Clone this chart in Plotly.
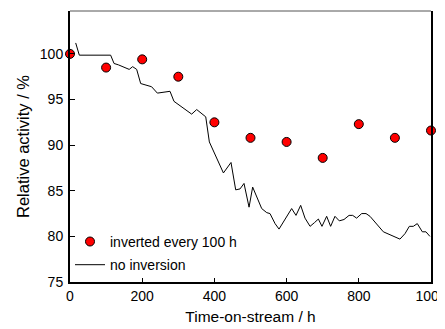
import plotly.graph_objects as go

# Inverted every 100 h (red markers)
inv_time = [0, 100, 200, 300, 400, 500, 600, 700, 800, 900, 1000]
inv_activity = [100.0, 98.5, 99.4, 97.5, 92.5, 90.8, 90.35, 88.6, 92.3, 90.8, 91.6]

# No inversion (black line)
noinv_time = [15.8, 25.8, 112.6, 122, 134, 152, 164, 173.6, 184.7, 195.8, 210, 226,
              242, 258, 277, 288, 337, 351, 362, 376, 386, 425, 446, 459, 471, 482,
              496, 506, 531, 545, 554, 568, 579, 614, 626, 639, 651, 665, 677, 688,
              698, 711, 722, 734, 746, 759, 773, 783, 794, 808, 820, 831, 868, 886,
              900, 914, 928, 940, 951, 962, 976, 986, 997]
noinv_activity = [101.2, 99.86, 99.86, 98.95, 98.8, 98.5, 98.3, 98.6, 98.3, 96.75, 96.6, 96.4,
                  95.7, 95.8, 95.9, 94.8, 93.4, 93.9, 93.5, 93.1, 90.35, 86.95, 88.1, 85.1, 85.2, 85.8,
                  83.2, 85.4, 83.05, 82.6, 82.5, 81.4, 80.8, 83.05, 82.3, 83.4, 82.0, 81.1, 81.5, 81.9,
                  81.1, 82.2, 81.1, 82.2, 81.7, 81.85, 82.3, 82.3, 82.0, 82.5, 82.5, 82.2, 80.5, 80.2,
                  80.0, 79.7, 80.3, 81.1, 81.1, 81.4, 80.5, 80.5, 80.0]

x_ticks = [0, 200, 400, 600, 800, 1000]
y_ticks = [75, 80, 85, 90, 95, 100]

font_family = "Liberation Sans, Arial, sans-serif"

fig = go.Figure()
fig.add_trace(go.Scatter(
    x=inv_time, y=inv_activity, mode="markers", name="inverted every 100 h",
    legendgroup="a",
    marker=dict(color="#ff0000", size=9, line=dict(color="black", width=1)),
    cliponaxis=False,
))
fig.add_trace(go.Scatter(
    x=noinv_time, y=noinv_activity, mode="lines", name="no inversion",
    legendgroup="b",
    line=dict(color="black", width=1),
))

fig.update_layout(
    width=437, height=321,
    margin=dict(l=62, r=14, t=3, b=47),
    paper_bgcolor="white", plot_bgcolor="white",
    font=dict(family=font_family, size=14, color="black"),
    showlegend=True,
    legend=dict(x=0.0, y=0.207, xanchor="left", yanchor="top",
                bgcolor="rgba(0,0,0,0)", tracegroupgap=2,
                font=dict(size=14)),
    xaxis=dict(
        range=[0, 1000], tickvals=x_ticks, ticks="inside", ticklen=4,
        tickcolor="black", showgrid=False, zeroline=False, automargin=False,
        showline=True, linecolor="black", linewidth=2,
        tickfont=dict(size=14), ticklabeloverflow="allow",
        title=dict(text="Time-on-stream / h", standoff=8, font=dict(size=15.5)),
    ),
    yaxis=dict(
        range=[75, 104.7], tickvals=y_ticks, ticks="inside", ticklen=5,
        tickcolor="black", showgrid=False, zeroline=False, automargin=False,
        showline=True, linecolor="black", linewidth=2, mirror=True,
        tickfont=dict(size=14), ticklabelstandoff=2,
        title=dict(text="Relative activity / %", standoff=6, font=dict(size=16.5)),
    ),
    shapes=[dict(type="line", xref="paper", yref="paper", x0=0, x1=1, y0=1, y1=1,
                 line=dict(color="#555555", width=1))],
)

fig.write_html("out.html")
